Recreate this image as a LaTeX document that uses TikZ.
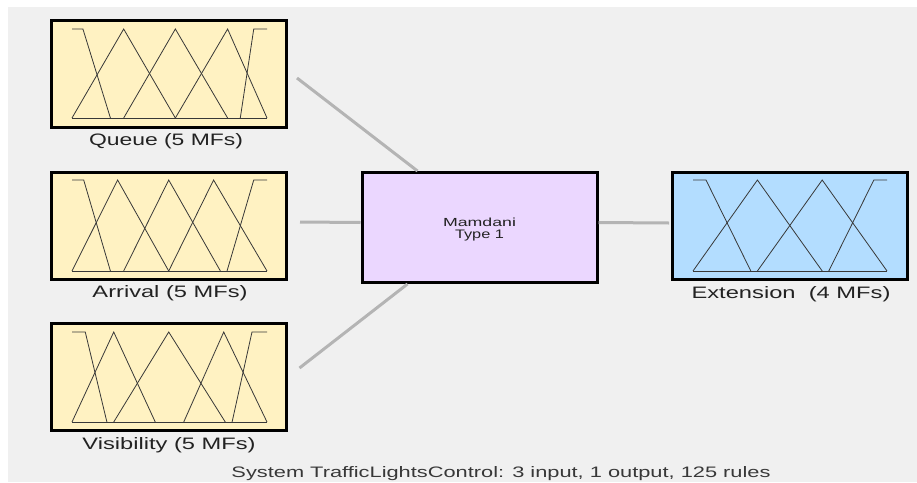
\documentclass[tikz,border=0pt]{standalone}
\usepackage{fontspec}
\usepackage{graphicx}
\setmainfont{Liberation Sans}
\usetikzlibrary{calc}
\definecolor{bgray}{HTML}{F0F0F0}
\definecolor{mfyellow}{HTML}{FFF2C2}
\definecolor{mfblue}{HTML}{B3DDFF}
\definecolor{mfpurple}{HTML}{EBD7FF}
\definecolor{conncol}{HTML}{B4B4B4}
\definecolor{txtcol}{HTML}{222222}
\newcommand\fitto[3]{\resizebox{#1}{#2}{\fontsize{12}{14}\selectfont #3}}
\tikzset{
  fisbox/.style={draw=black, line width=3pt, inner sep=0pt, minimum width=235pt, minimum height=107pt},
  mfline/.style={draw=black!78, line width=0.8pt, line join=miter},
  connline/.style={draw=conncol, line width=3pt},
  lbl/.style={text=txtcol, inner sep=0pt},
}
\begin{document}
\begin{tikzpicture}[x=1pt, y=-1pt]
\useasboundingbox (0,0) rectangle (917,482);
\fill[white] (0,0) rectangle (917,482);
\fill[bgray] (8,7) rectangle (917,482);

% boxes
\node[fisbox, fill=mfyellow] (q) at (169,74) {};
\node[fisbox, fill=mfyellow] (a) at (169,226) {};
\node[fisbox, fill=mfyellow] (v) at (168.5,377) {};
\node[fisbox, fill=mfpurple, minimum height=110pt] (m) at (479.5,227.5) {};
\node[fisbox, fill=mfblue] (e) at (790,226) {};

\node[lbl, anchor=base] (mt1) at (479.5,226.5) {\fitto{73pt}{8.5pt}{Mamdani}};
\node[lbl, anchor=base] (mt2) at (479.5,238.5) {\fitto{49pt}{8.5pt}{Type 1}};

% labels
\node[lbl, anchor=base] (ql) at (166,145.5) {\fitto{154pt}{12pt}{Queue (5 MFs)}};
\node[lbl, anchor=base] (al) at (170,297.5) {\fitto{155pt}{12pt}{Arrival (5 MFs)}};
\node[lbl, anchor=base] (vl) at (169,449.5) {\fitto{173pt}{12pt}{Visibility (5 MFs)}};
\node[lbl, anchor=base] (el) at (791,298.5) {\fitto{199pt}{12pt}{Extension~~(4 MFs)}};
\node[lbl, text=black!78, anchor=base] (cap) at (501,477.5) {\fitto{539pt}{11pt}{System TrafficLightsControl: 3 input, 1 output, 125 rules}};

% connectors
\coordinate (qs) at ($(q.east)+(9,4)$);
\coordinate (qe) at ($(m.north west)+(57,0)$);
\coordinate (as) at ($(a.east)+(12,-4)$);
\coordinate (ae) at ($(m.west)+(0,-5)$);
\coordinate (vs) at ($(v.east)+(12,-9)$);
\coordinate (ve) at ($(m.south west)+(47,0)$);
\coordinate (es) at ($(m.east)+(0,-5)$);
\coordinate (ee) at ($(e.west)+(-2,-3)$);
\draw[connline] (qs) -- (qe);
\draw[connline] (as) -- (ae);
\draw[connline] (vs) -- (ve);
\draw[connline] (es) -- (ee);

% Queue MFs
\begin{scope}[shift={(72,29)}, x=195pt, y=-89pt]
\draw[mfline] (0,1) -- (1,1);
\draw[mfline] (0,0) -- (0.056,0) -- (0.197,1);
\draw[mfline] (0,1) -- (0.265,0) -- (0.530,1);
\draw[mfline] (0.265,1) -- (0.530,0) -- (0.798,1);
\draw[mfline] (0.530,1) -- (0.798,0) -- (1,1);
\draw[mfline] (0.863,1) -- (0.932,0) -- (1,0);
\end{scope}

% Arrival MFs
\begin{scope}[shift={(72,180)}, x=195pt, y=-91pt]
\draw[mfline] (0,1) -- (1,1);
\draw[mfline] (0,0) -- (0.060,0) -- (0.197,1);
\draw[mfline] (0,1) -- (0.234,0) -- (0.496,1);
\draw[mfline] (0.265,1) -- (0.496,0) -- (0.761,1);
\draw[mfline] (0.496,1) -- (0.726,0) -- (1,1);
\draw[mfline] (0.795,1) -- (0.932,0) -- (1,0);
\end{scope}

% Visibility MFs
\begin{scope}[shift={(72,332)}, x=195pt, y=-90pt]
\draw[mfline] (0,1) -- (1,1);
\draw[mfline] (0,0) -- (0.068,0) -- (0.179,1);
\draw[mfline] (0,1) -- (0.214,0) -- (0.427,1);
\draw[mfline] (0.214,1) -- (0.496,0) -- (0.786,1);
\draw[mfline] (0.573,1) -- (0.778,0) -- (1,1);
\draw[mfline] (0.821,1) -- (0.923,0) -- (1,0);
\end{scope}

% Extension MFs
\begin{scope}[shift={(693,180)}, x=194pt, y=-91pt]
\draw[mfline] (0,1) -- (1,1);
\draw[mfline] (0,0) -- (0.067,0) -- (0.298,1);
\draw[mfline] (0,1) -- (0.332,0) -- (0.666,1);
\draw[mfline] (0.332,1) -- (0.666,0) -- (1,1);
\draw[mfline] (0.700,1) -- (0.932,0) -- (1,0);
\end{scope}
\end{tikzpicture}
\end{document}
